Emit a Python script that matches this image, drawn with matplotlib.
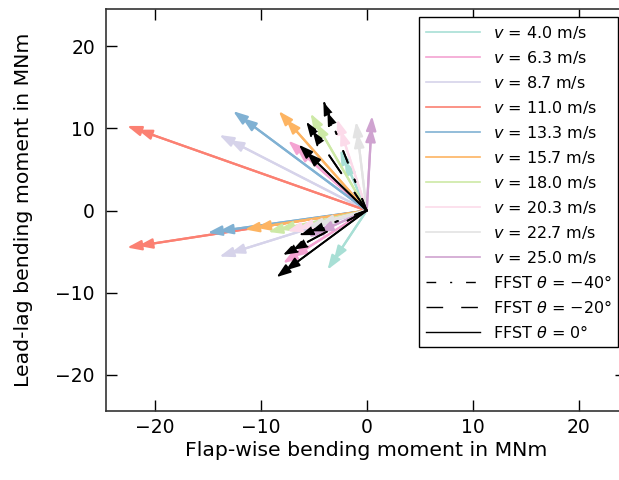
import matplotlib
matplotlib.use("Agg")
import matplotlib.pyplot as plt
from matplotlib.lines import Line2D

# ---- data (MNm) ----
speeds = [4.0, 6.3, 8.7, 11.0, 13.3, 15.7, 18.0, 20.3, 22.7, 25.0]
colors = ["#a8dfd5", "#f4a3d2", "#d6d3ea", "#fb8072", "#80b1d3",
          "#fdb462", "#cde9a6", "#fcdbea", "#e3e3e3", "#cfa3d0"]
# upper vectors (flap, lead-lag)
upper_x = [-2.5, -7.4, -13.9, -22.6, -12.6, -8.3, -5.3, -2.8, -1.0, 0.5]
upper_y = [7.4, 8.5, 9.2, 10.3, 12.1, 12.1, 11.8, 11.1, 10.8, 11.5]
# lower vectors
lower_x = [-3.7, -7.9, -13.9, -22.6, -15.0, -11.5, -9.3, -7.5, -5.5, -5.5]
lower_y = [-7.2, -6.4, -5.6, -4.5, -2.7, -2.3, -2.6, -2.5, -2.0, -3.2]

# FFST results
ffst_theta = [-40, -20, 0]
ffst_upper_x = [-4.1, -5.7, -6.4]
ffst_upper_y = [13.4, 10.8, 8.0]
ffst_lower_x = [-6.4, -7.9, -8.5]
ffst_lower_y = [-3.0, -5.4, -8.1]
ffst_styles = [(0, (7, 10, 1.5, 10)), (0, (12, 13)), "solid"]

xticks = [-20, -10, 0, 10, 20]
yticks = [-20, -10, 0, 10, 20]

plt.rcParams["font.family"] = "DejaVu Sans"
plt.rcParams["mathtext.fontset"] = "dejavusans"

fig = plt.figure(figsize=(6.19, 4.8), dpi=100)
ax = fig.add_axes([106 / 619, 69 / 480, 520.4 / 619, 401.7 / 480])
ax.set_xlim(-24.6, 24.5)
ax.set_ylim(-24.4, 24.5)


def arrow(x, y, color, ls="solid", lw=1.6, z=2):
    for shrink in (0, 8):
        ax.annotate("", xy=(x, y), xytext=(0, 0),
                    arrowprops=dict(arrowstyle="-|>,head_length=0.85,head_width=0.3",
                                    color=color, lw=lw, linestyle=ls,
                                    shrinkA=0, shrinkB=shrink),
                    zorder=z)


for i in range(len(speeds)):
    arrow(upper_x[i], upper_y[i], colors[i])
    arrow(lower_x[i], lower_y[i], colors[i])

for j in range(len(ffst_theta)):
    arrow(ffst_upper_x[j], ffst_upper_y[j], "black", ffst_styles[j], lw=1.3, z=3)
    arrow(ffst_lower_x[j], ffst_lower_y[j], "black", ffst_styles[j], lw=1.3, z=3)

ax.set_xticks(xticks)
ax.set_yticks(yticks)
ax.set_xticklabels([f"{t}".replace("-", "\u2212") for t in xticks])
ax.set_yticklabels([f"{t}".replace("-", "\u2212") for t in yticks])
ax.tick_params(direction="in", length=8, width=1, labelsize=13.5,
               top=True, right=True)
ax.tick_params(axis="x", pad=5)
ax.tick_params(axis="y", pad=8)
for s in ax.spines.values():
    s.set_linewidth(1.2)
    s.set_color("#333333")

ax.set_xlabel("Flap-wise bending moment in MNm", fontsize=14.7, labelpad=3)
ax.set_ylabel("Lead-lag bending moment in MNm", fontsize=14.7, labelpad=16)

handles = [Line2D([], [], color=c, lw=1.2) for c in colors]
labels = [rf"$v$ = {s:.1f} m/s" for s in speeds]
for j, th in enumerate(ffst_theta):
    handles.append(Line2D([], [], color="black", lw=1.0, linestyle=ffst_styles[j]))
    labels.append(rf"FFST $\theta$ = {th}°".replace("-", "\u2212"))
leg = ax.legend(handles, labels, loc="upper right", fontsize=11.5,
                handlelength=3.4, fancybox=False, framealpha=1,
                edgecolor="black", labelspacing=0.5)
leg.get_frame().set_linewidth(1.0)

fig.savefig("out.png", dpi=100)
